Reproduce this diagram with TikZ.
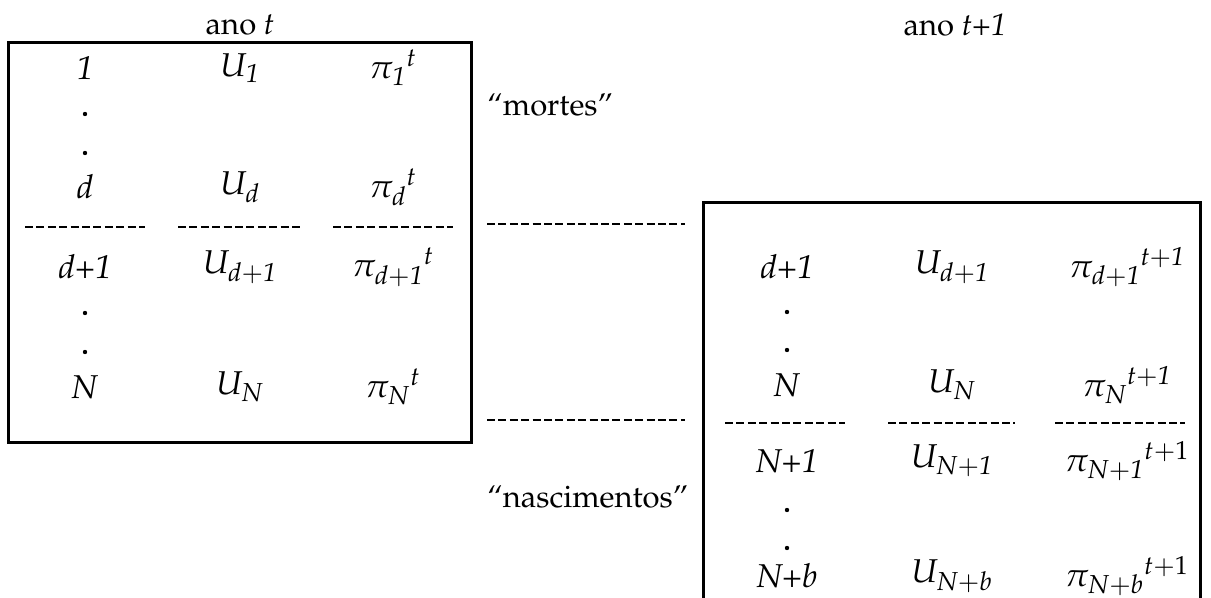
\documentclass[tikz,border=0pt]{standalone}
\usepackage[T1]{fontenc}
\usepackage{mathpazo}
\DeclareMathSizes{16.5}{16.5}{13}{10}
\begin{document}
\begin{tikzpicture}[x=0.5pt,y=-0.5pt,
  txt/.style={inner sep=0pt, font=\fontsize{15.5}{19}\selectfont},
  cell/.style={inner sep=0pt, font=\fontsize{16.5}{20}\selectfont},
  frame/.style={line width=1.5pt},
  sep/.style={line width=1.1pt, dash pattern=on 4pt off 1.7pt},
  dotm/.style={circle, fill=black, inner sep=0pt, minimum size=2.2pt}]
\useasboundingbox (0,0) rectangle (1211,598);
% headers
\node[txt] (hL) at (240,25) {ano \textit{t}};
\node[txt] (hR) at (955,25) {ano \textit{t+1}};
% left box
\draw[frame] (8,43) rectangle (471,443);
\node[cell] (a1) at (85,68) {\textit{1}};
\node[cell] (b1) at (240,68) {$\mathit{U_{1}}$};
\node[cell] (c1) at (393,68) {${\pi_{\mathit{1}}}^{t}$};
\node[dotm] (da1) at (85,114) {};
\node[dotm] (da2) at (85,153) {};
\node[cell] (a2) at (85,187) {\textit{d}};
\node[cell] (b2) at (240,187) {$\mathit{U_{d}}$};
\node[cell] (c2) at (393,187) {${\pi_{\mathit{d}}}^{t}$};
\coordinate (s1a) at (25,227); \coordinate (s1b) at (145,227);
\coordinate (s2a) at (178,227); \coordinate (s2b) at (300,227);
\coordinate (s3a) at (333,227); \coordinate (s3b) at (453,227);
\draw[sep] (s1a) -- (s1b); \draw[sep] (s2a) -- (s2b); \draw[sep] (s3a) -- (s3b);
\node[cell] (a3) at (85,267) {\textit{d+1}};
\node[cell] (b3) at (240,267) {$\mathit{U_{d+1}}$};
\node[cell] (c3) at (393,267) {${\pi_{\mathit{d+1}}}^{t}$};
\node[dotm] (db1) at (85,313) {};
\node[dotm] (db2) at (85,352) {};
\node[cell] (a4) at (85,387) {\textit{N}};
\node[cell] (b4) at (240,387) {$\mathit{U_{N}}$};
\node[cell] (c4) at (393,387) {${\pi_{\mathit{N}}}^{t}$};
% middle
\node[txt, anchor=west] (mo) at (487,105) {``mortes''};
\coordinate (m1a) at (487,224); \coordinate (m1b) at (685,224);
\coordinate (m2a) at (487,420); \coordinate (m2b) at (685,420);
\draw[sep] (m1a) -- (m1b); \draw[sep] (m2a) -- (m2b);
\node[txt, anchor=west] (na) at (487,497) {``nascimentos''};
% right box
\draw[frame] (703,610) -- (703,203) -- (1200,203) -- (1200,610);
\node[cell] (e1) at (787,267) {\textit{d+1}};
\node[cell] (f1) at (952,267) {$\mathit{U_{d+1}}$};
\node[cell] (g1) at (1127,267) {${\pi_{\mathit{d+1}}}^{\mathit{t+1}}$};
\node[dotm] (dc1) at (787,312) {};
\node[dotm] (dc2) at (787,350) {};
\node[cell] (e2) at (787,385) {\textit{N}};
\node[cell] (f2) at (952,385) {$\mathit{U_{N}}$};
\node[cell] (g2) at (1127,385) {${\pi_{\mathit{N}}}^{\mathit{t+1}}$};
\coordinate (r1a) at (725,423); \coordinate (r1b) at (845,423);
\coordinate (r2a) at (888,423); \coordinate (r2b) at (1015,423);
\coordinate (r3a) at (1055,423); \coordinate (r3b) at (1185,423);
\draw[sep] (r1a) -- (r1b); \draw[sep] (r2a) -- (r2b); \draw[sep] (r3a) -- (r3b);
\node[cell] (e3) at (787,461) {\textit{N+1}};
\node[cell] (f3) at (952,461) {$\mathit{U_{N+1}}$};
\node[cell] (g3) at (1127,461) {${\pi_{\mathit{N+1}}}^{t+1}$};
\node[dotm] (dd1) at (787,510) {};
\node[dotm] (dd2) at (787,548) {};
\node[cell] (e4) at (787,576) {\textit{N+b}};
\node[cell] (f4) at (952,576) {$\mathit{U_{N+b}}$};
\node[cell] (g4) at (1127,576) {${\pi_{\mathit{N+b}}}^{t+1}$};
\end{tikzpicture}
\end{document}
